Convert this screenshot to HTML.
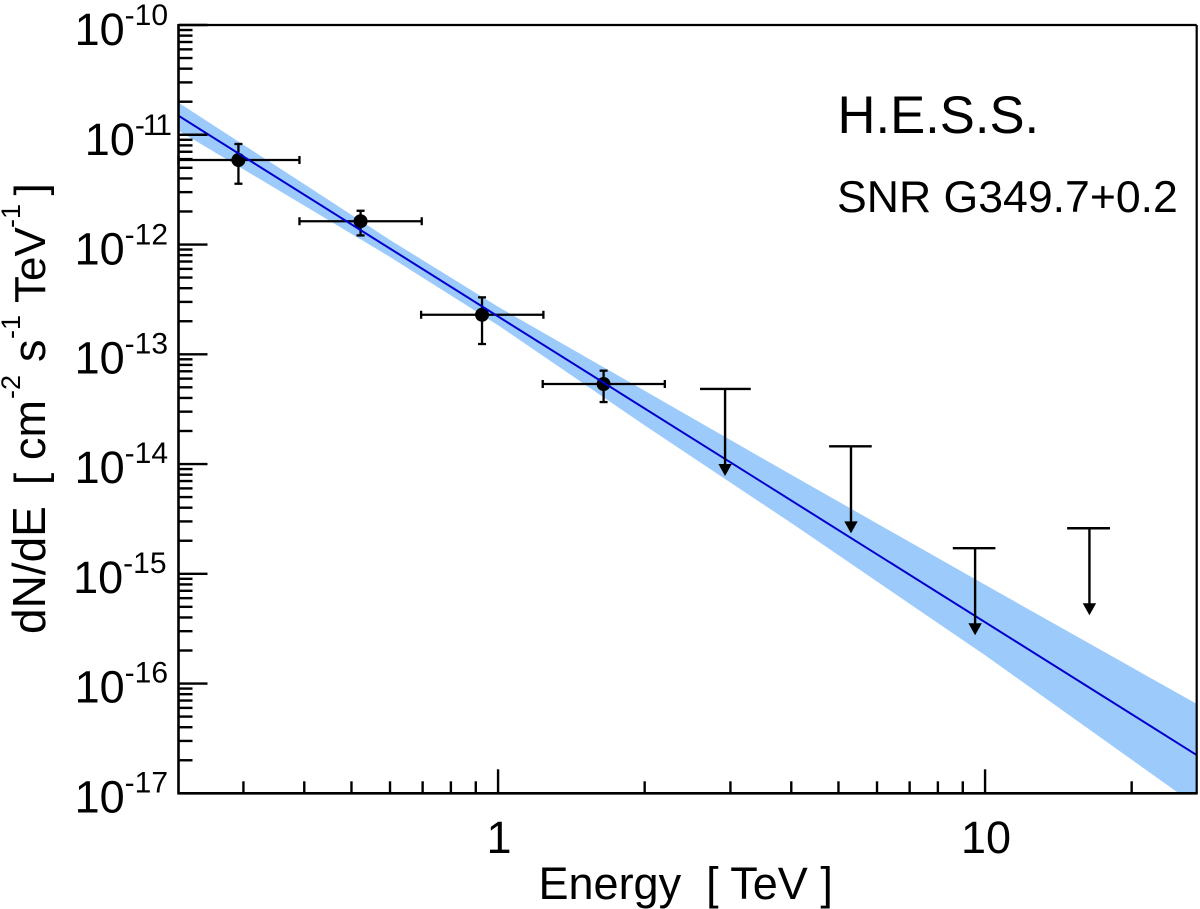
<!DOCTYPE html>
<html lang="en">
<head>
<meta charset="utf-8">
<title>SNR G349.7+0.2 H.E.S.S. spectrum</title>
<style>
  html, body { margin: 0; padding: 0; background: #fff; }
  svg { display: block; }
  text { font-family: "Liberation Sans", Arial, sans-serif; fill: #000; }
</style>
</head>
<body>
<svg id="chart" xmlns="http://www.w3.org/2000/svg" width="1200" height="909" viewBox="0 0 1200 909">
  <defs>
    <clipPath id="plot-clip"><rect x="178.5" y="25" width="1018.2" height="768.3"></rect></clipPath>
  </defs>
  <g id="band-layer" clip-path="url(#plot-clip)"></g>
  <g id="points-layer"></g>
  <g id="fit-layer" clip-path="url(#plot-clip)"></g>
  <g id="limits-layer"></g>
  <g id="axes-layer"></g>
  <g id="labels-layer"></g>

  <text x="837.5" y="133" font-size="52.6">H.E.S.S.</text>
  <text x="837" y="212" font-size="44.6">SNR G349.7+0.2</text>
  <text x="538.5" y="899" font-size="45" xml:space="preserve">Energy  [ TeV ]</text>
  <g transform="translate(45,0) rotate(-90)">
    <text font-size="46" x="-634">dN/dE</text>
    <text font-size="44" x="-485">[</text>
    <text font-size="45" x="-460">cm</text>
    <text font-size="27" x="-399" y="-25">-2</text>
    <text font-size="45" x="-362">s</text>
    <text font-size="27" x="-339" y="-25">-1</text>
    <text font-size="44" x="-303">TeV</text>
    <text font-size="27" x="-228" y="-25">-1</text>
    <text font-size="44" x="-195.5">]</text>
  </g>
</svg>

<script>
// Axis domains
const xDomain = [0.2207, 27.2];
const yDomain = [1e-17, 1e-10];

// Axis ticks
const xMinorTicks = [0.3, 0.4, 0.5, 0.6, 0.7, 0.8, 0.9, 2, 3, 4, 5, 6, 7, 8, 9, 20];
const xMajorTicks = [1, 10];
const xTickLabels = ["1", "10"];
const yMajorExponents = [-10, -11, -12, -13, -14, -15, -16, -17];
const yTickLabels = ["-10", "-11", "-12", "-13", "-14", "-15", "-16", "-17"];
const yMinorMultipliers = [2, 3, 4, 5, 6, 7, 8, 9];

// Power-law fit line
const fitEnergy = [0.2207, 27.2];
const fitFlux = [1.49e-11, 2.23e-17];

// Confidence band
const bandEnergy = [0.2207, 0.4, 0.6, 1, 2, 4, 10, 27.2];
const bandUpper = [1.96e-11, 3.55e-12, 1.10e-12, 2.71e-13, 4.65e-14, 7.98e-15, 7.94e-16, 6.52e-17];
const bandLower = [1.09e-11, 2.26e-12, 7.70e-13, 1.84e-13, 2.25e-14, 2.90e-15, 1.81e-16, 7.66e-18];

// Flux points
const pointEnergy = [0.293, 0.522, 0.927, 1.647];
const pointEnergyLow = [0.2207, 0.391, 0.695, 1.235];
const pointEnergyHigh = [0.391, 0.697, 1.239, 2.2];
const pointFlux = [5.89e-12, 1.63e-12, 2.29e-13, 5.36e-14];
const pointFluxHigh = [8.24e-12, 2.03e-12, 3.30e-13, 7.09e-14];
const pointFluxLow = [3.58e-12, 1.21e-12, 1.24e-13, 3.67e-14];

// Upper limits
const limitEnergy = [2.925, 5.305, 9.54, 16.38];
const limitEnergyLow = [2.598, 4.783, 8.586, 14.74];
const limitEnergyHigh = [3.303, 5.852, 10.5, 18.05];
const limitFlux = [4.83e-14, 1.45e-14, 1.71e-15, 2.6e-15];

const PLOT = { left: 178.5, right: 1196.7, top: 25, bottom: 793.3 };
const NS = "http://www.w3.org/2000/svg";

function xScale(energy) {
  const t = (Math.log10(energy) - Math.log10(xDomain[0])) / (Math.log10(xDomain[1]) - Math.log10(xDomain[0]));
  return PLOT.left + t * (PLOT.right - PLOT.left);
}
function yScale(flux) {
  const t = (Math.log10(flux) - Math.log10(yDomain[0])) / (Math.log10(yDomain[1]) - Math.log10(yDomain[0]));
  return PLOT.bottom - t * (PLOT.bottom - PLOT.top);
}
function make(tag, attrs, parent) {
  const node = document.createElementNS(NS, tag);
  for (const key in attrs) node.setAttribute(key, attrs[key]);
  parent.appendChild(node);
  return node;
}
function segment(parent, x1, y1, x2, y2, width) {
  return make("line", { x1: x1, y1: y1, x2: x2, y2: y2, stroke: "#000", "stroke-width": width }, parent);
}

const bandLayer = document.getElementById("band-layer");
const pointsLayer = document.getElementById("points-layer");
const fitLayer = document.getElementById("fit-layer");
const limitsLayer = document.getElementById("limits-layer");
const axesLayer = document.getElementById("axes-layer");
const labelsLayer = document.getElementById("labels-layer");

// Band
const bandVertices = [];
bandEnergy.forEach(function (e, i) { bandVertices.push(xScale(e) + "," + yScale(bandUpper[i])); });
for (let i = bandEnergy.length - 1; i >= 0; i--) { bandVertices.push(xScale(bandEnergy[i]) + "," + yScale(bandLower[i])); }
const bandShape = make("polygon", { points: bandVertices.join(" "), fill: "#9ccbfb" }, bandLayer);



// Flux points
pointEnergy.forEach(function (e, i) {
  const g = make("g", {}, pointsLayer);
  
  
  const cx = xScale(e), cy = yScale(pointFlux[i]);
  const xl = xScale(pointEnergyLow[i]), xh = xScale(pointEnergyHigh[i]);
  const yh = yScale(pointFluxHigh[i]), yl = yScale(pointFluxLow[i]);
  segment(g, xl, cy, xh, cy, 2.3);
  segment(g, xl, cy - 4, xl, cy + 4, 2.3);
  segment(g, xh, cy - 4, xh, cy + 4, 2.3);
  segment(g, cx, yh, cx, yl, 2.3);
  segment(g, cx - 4, yh, cx + 4, yh, 2.3);
  segment(g, cx - 4, yl, cx + 4, yl, 2.3);
  make("circle", { cx: cx, cy: cy, r: 7, fill: "#000" }, g);
});

// Fit line
const fitPath = make("line", {
  x1: xScale(fitEnergy[0]), y1: yScale(fitFlux[0]),
  x2: xScale(fitEnergy[1]), y2: yScale(fitFlux[1]),
  stroke: "#0000cc", "stroke-width": 2
}, fitLayer);



// Upper limits
limitEnergy.forEach(function (e, i) {
  const g = make("g", {}, limitsLayer);
  
  
  const x = xScale(e), y = yScale(limitFlux[i]);
  segment(g, xScale(limitEnergyLow[i]), y, xScale(limitEnergyHigh[i]), y, 2.4);
  segment(g, x, y, x, y + 76, 2.4);
  make("polygon", { points: (x - 6.7) + "," + (y + 75) + " " + (x + 6.7) + "," + (y + 75) + " " + x + "," + (y + 87), fill: "#000" }, g);
});

// Frame
const frameTop = segment(axesLayer, PLOT.left, PLOT.top, PLOT.right, PLOT.top, 2.2);


const frameRight = segment(axesLayer, PLOT.right, PLOT.top, PLOT.right, PLOT.bottom, 2.2);


const frameLeft = segment(axesLayer, PLOT.left, PLOT.top - 1, PLOT.left, PLOT.bottom + 1, 2.6);


const frameBottom = segment(axesLayer, PLOT.left - 1, PLOT.bottom, PLOT.right + 1, PLOT.bottom, 2.6);



// X ticks
xMinorTicks.forEach(function (e) {
  const tick = segment(axesLayer, xScale(e), PLOT.bottom, xScale(e), PLOT.bottom - 12, 2.4);
  
  
});
xMajorTicks.forEach(function (e, i) {
  const tick = segment(axesLayer, xScale(e), PLOT.bottom, xScale(e), PLOT.bottom - 24, 2.4);
  
  
  const label = make("text", { x: xScale(e) + 1, y: 853, "font-size": 45, "text-anchor": "middle" }, labelsLayer);
  
  
  label.textContent = xTickLabels[i];
});

// Y ticks
yMajorExponents.forEach(function (exp, i) {
  const value = Math.pow(10, exp);
  const y = yScale(value);
  const tick = segment(axesLayer, PLOT.left, y, PLOT.left + 29, y, 2.4);
  
  
  yMinorMultipliers.forEach(function (m) {
    const v = value * m;
    if (v >= yDomain[1]) return;
    const minor = segment(axesLayer, PLOT.left, yScale(v), PLOT.left + 14, yScale(v), 2.4);
    
    
  });
  const text = yTickLabels[i];
  const anchorX = text === "-11" ? 170 : (text === "-15" ? 166.5 : 168);
  const label = make("text", { x: anchorX, y: y + (exp < -12 ? 19 : 20), "font-size": 45, "text-anchor": "end" }, labelsLayer);
  
  
  const base = make("tspan", {}, label);
  base.textContent = "10";
  const sup = make("tspan", { dy: -20, "font-size": 30 }, label);
  if (text === "-11") sup.setAttribute("letter-spacing", "-2");
  sup.textContent = text;
});
</script>
</body>
</html>
